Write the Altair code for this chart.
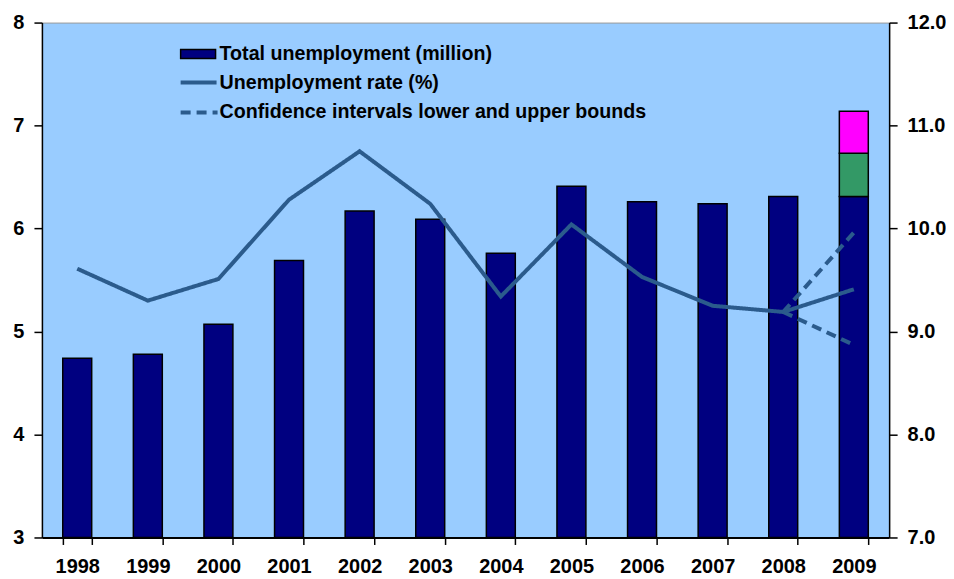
import altair as alt
import pandas as pd

years = ["1998", "1999", "2000", "2001", "2002", "2003", "2004", "2005", "2006", "2007", "2008", "2009"]
unemployment = [4.74, 4.78, 5.07, 5.69, 6.17, 6.09, 5.76, 6.41, 6.26, 6.24, 6.31, 6.31]
rate = [9.61, 9.30, 9.51, 10.28, 10.75, 10.24, 9.34, 10.04, 9.53, 9.25, 9.19, 9.41]
# 2009 extra stacked segments (million)
extra_2009_green = 6.73
extra_2009_magenta = 7.14
# Confidence bounds (2008 -> 2009)
ci_years = ["2008", "2009"]
ci_upper = [9.19, 9.96]
ci_lower = [9.19, 8.87]
left_min = 3
legend_labels = ["Total unemployment (million)", "Unemployment rate (%)",
                 "Confidence intervals lower and upper bounds"]

FONT = "Liberation Sans"
NAVY = "#000080"
LINE = "#2B5B8C"

rows = []
for y, v in zip(years, unemployment):
    rows.append({"year": y, "lo": left_min, "hi": v, "seg": "base"})
rows.append({"year": "2009", "lo": unemployment[-1], "hi": extra_2009_green, "seg": "green"})
rows.append({"year": "2009", "lo": extra_2009_green, "hi": extra_2009_magenta, "seg": "magenta"})
bars_df = pd.DataFrame(rows)

line_rows = [{"year": y, "rate": r, "series": "rate"} for y, r in zip(years, rate)]
line_rows += [{"year": y, "rate": r, "series": "upper"} for y, r in zip(ci_years, ci_upper)]
line_rows += [{"year": y, "rate": r, "series": "lower"} for y, r in zip(ci_years, ci_lower)]
lines_df = pd.DataFrame(line_rows)

xenc = alt.X("year:N", sort=years, title=None,
             scale=alt.Scale(paddingInner=0.59, paddingOuter=0.295),
             axis=alt.Axis(labelAngle=0, labelFont=FONT, labelFontSize=20, labelFontWeight="bold",
                           labelColor="black", tickBand="extent", tickColor="black", tickSize=7,
                           tickWidth=1.5, domainColor="black", domainWidth=2, labelPadding=12))

bars = alt.Chart(bars_df).mark_bar(stroke="black", strokeWidth=1.5).encode(
    x=xenc,
    y=alt.Y("lo:Q", title=None,
            scale=alt.Scale(domain=[3, 8], nice=False, zero=False),
            axis=alt.Axis(values=[3, 4, 5, 6, 7, 8], format="d", labelFont=FONT, labelFontSize=20,
                          labelFontWeight="bold", labelColor="black", tickColor="black", tickSize=8,
                          tickWidth=1.5, domainColor="black", domainWidth=1.5, labelPadding=10,
                          grid=False)),
    y2="hi:Q",
    color=alt.Color("seg:N", scale=alt.Scale(domain=["base", "green", "magenta"],
                                               range=[NAVY, "#339966", "#FF00FF"]), legend=None),
)

lines = alt.Chart(lines_df).mark_line(strokeWidth=4, color=LINE).encode(
    x=alt.X("year:N", sort=years),
    y=alt.Y("rate:Q", title=None,
            scale=alt.Scale(domain=[7, 12], nice=False, zero=False),
            axis=alt.Axis(orient="right", values=[7, 8, 9, 10, 11, 12], format=".1f", labelFont=FONT,
                          labelFontSize=20, labelFontWeight="bold", labelColor="black",
                          tickColor="black", tickSize=8, tickWidth=1.5, domainColor="black",
                          domainWidth=1.5, labelPadding=10, grid=False)),
    detail="series:N",
    strokeDash=alt.StrokeDash("series:N", scale=alt.Scale(domain=["rate", "upper", "lower"],
                                                             range=[[1, 0], [10, 6], [10, 6]]),
                              legend=None),
)

leg_df = pd.DataFrame({"label": legend_labels})
leg_rect = alt.Chart(leg_df.iloc[[0]]).mark_rect(color=NAVY, stroke="black", strokeWidth=1.5).encode(
    x=alt.value(139), x2=alt.value(174), y=alt.value(27), y2=alt.value(36))
leg_line = alt.Chart(leg_df.iloc[[1]]).mark_rule(color=LINE, strokeWidth=4).encode(
    x=alt.value(139), x2=alt.value(175), y=alt.value(60))
leg_dash = alt.Chart(leg_df.iloc[[2]]).mark_rule(color=LINE, strokeWidth=4, strokeDash=[10, 6]).encode(
    x=alt.value(139), x2=alt.value(176), y=alt.value(90))


def leg_text(i, ypos):
    return alt.Chart(leg_df.iloc[[i]]).mark_text(
        align="left", baseline="middle", font=FONT, fontSize=19.7, fontWeight="bold", color="black"
    ).encode(x=alt.value(178), y=alt.value(ypos), text="label:N")


legend = alt.layer(leg_rect, leg_line, leg_dash, leg_text(0, 32), leg_text(1, 61), leg_text(2, 90))

chart = alt.layer(bars, lines, legend).resolve_scale(y="independent").properties(
    width=849, height=516,
    padding={"left": 4, "top": 4, "right": 0, "bottom": 0},
    background="white",
).configure_view(fill="#99CCFF", stroke="#999999", strokeWidth=1)

chart.save("out.html", embed_options={"renderer": "svg", "actions": False})
